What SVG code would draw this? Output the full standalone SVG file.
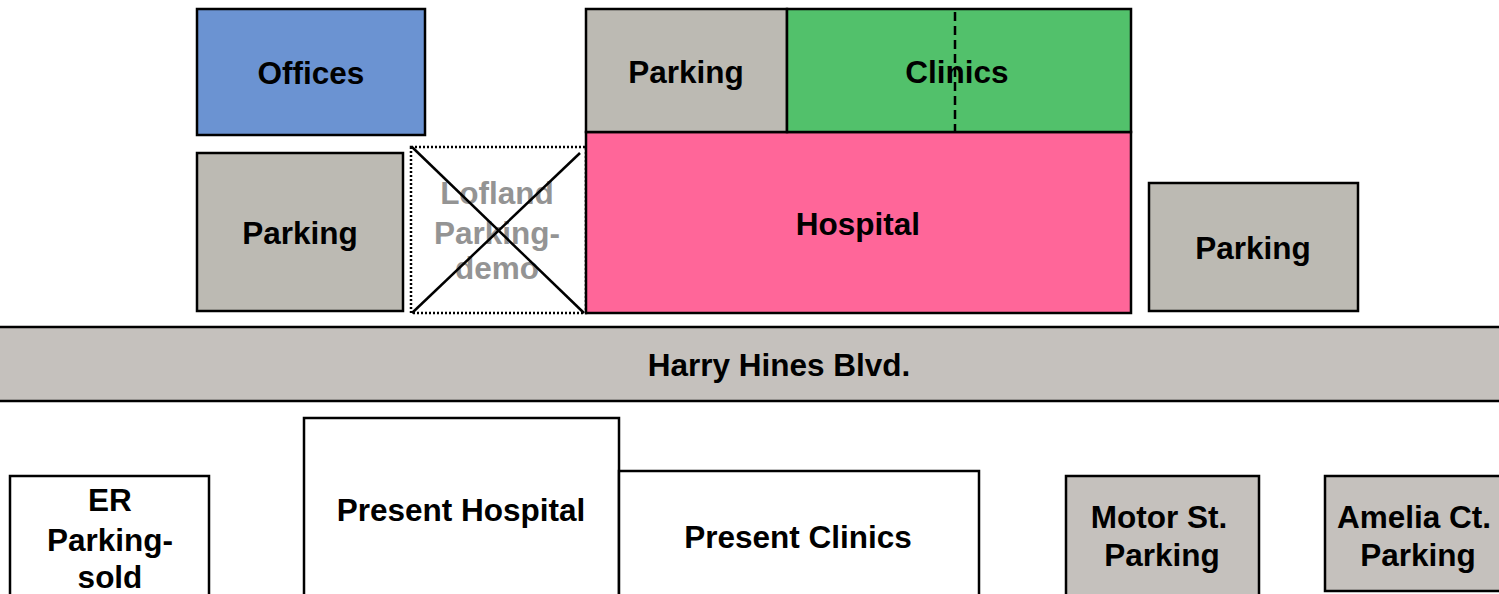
<svg xmlns="http://www.w3.org/2000/svg" width="1499" height="594" viewBox="0 0 1499 594">
<style>
.b{stroke:#000;stroke-width:2.5}
.t{font-family:"Liberation Sans",Arial,sans-serif;font-weight:bold;font-size:31.5px;fill:#000;text-anchor:middle;dominant-baseline:central}
.gr{fill:#949494}
.g{fill:#bcbab3}
.w{fill:#fff}
</style>
<rect x="0" y="0" width="1499" height="594" fill="#fff"/>
<g id="road">
<rect x="-5" y="327" width="1510" height="74" fill="#c5c1bd" class="b"/>
<text class="t" x="779" y="365">Harry Hines Blvd.</text>
</g>
<g id="offices">
<rect x="197" y="9" width="228" height="126" fill="#6b93d2" class="b"/>
<text class="t" x="311" y="73">Offices</text>
</g>
<g id="parking-left">
<rect x="197" y="153" width="206" height="158" class="g b"/>
<text class="t" x="300" y="233">Parking</text>
</g>
<g id="lofland">
<rect x="411" y="147" width="175" height="166" fill="#fff" stroke="#000" stroke-width="2.5" stroke-dasharray="2 2"/>
<text class="t gr" x="497" y="193" style="fill:#949494">Lofland</text>
<text class="t gr" x="497" y="233" style="fill:#949494">Parking-</text>
<text class="t gr" x="497" y="268" style="fill:#949494">demo</text>
<line x1="412" y1="147" x2="584" y2="313" class="b"/>
<line x1="412" y1="313" x2="580" y2="153" class="b"/>
</g>
<g id="hospital">
<rect x="586" y="132" width="545" height="181" fill="#ff6699" class="b"/>
<text class="t" x="858" y="224">Hospital</text>
</g>
<g id="parking-top">
<rect x="586" y="9" width="201" height="123" class="g b"/>
<text class="t" x="686" y="72">Parking</text>
</g>
<g id="clinics">
<rect x="787" y="9" width="344" height="123" fill="#52c16b" class="b"/>
<text class="t" x="957" y="72">Clinics</text>
<line x1="955" y1="12" x2="955" y2="134" stroke="#000" stroke-width="2.5" stroke-dasharray="9 5"/>
</g>
<g id="parking-right">
<rect x="1149" y="183" width="209" height="128" class="g b"/>
<text class="t" x="1253" y="248">Parking</text>
</g>
<g id="er-parking">
<rect x="10" y="476" width="199" height="130" class="w b"/>
<text class="t" x="110" y="500">ER</text>
<text class="t" x="110" y="540">Parking-</text>
<text class="t" x="110" y="577">sold</text>
</g>
<g id="present-hospital">
<rect x="304" y="418" width="315" height="190" class="w b"/>
<text class="t" x="461" y="510">Present Hospital</text>
</g>
<g id="present-clinics">
<rect x="619" y="471" width="360" height="140" class="w b"/>
<text class="t" x="798" y="537">Present Clinics</text>
</g>
<g id="motor-st">
<rect x="1066" y="476" width="193" height="130" fill="#c5c1bd" class="b"/>
<text class="t" x="1159" y="517">Motor St.</text>
<text class="t" x="1162" y="555">Parking</text>
</g>
<g id="amelia-ct">
<rect x="1325" y="476" width="190" height="115" fill="#c5c1bd" class="b"/>
<text class="t" x="1414" y="517">Amelia Ct.</text>
<text class="t" x="1418" y="555">Parking</text>
</g>
</svg>
